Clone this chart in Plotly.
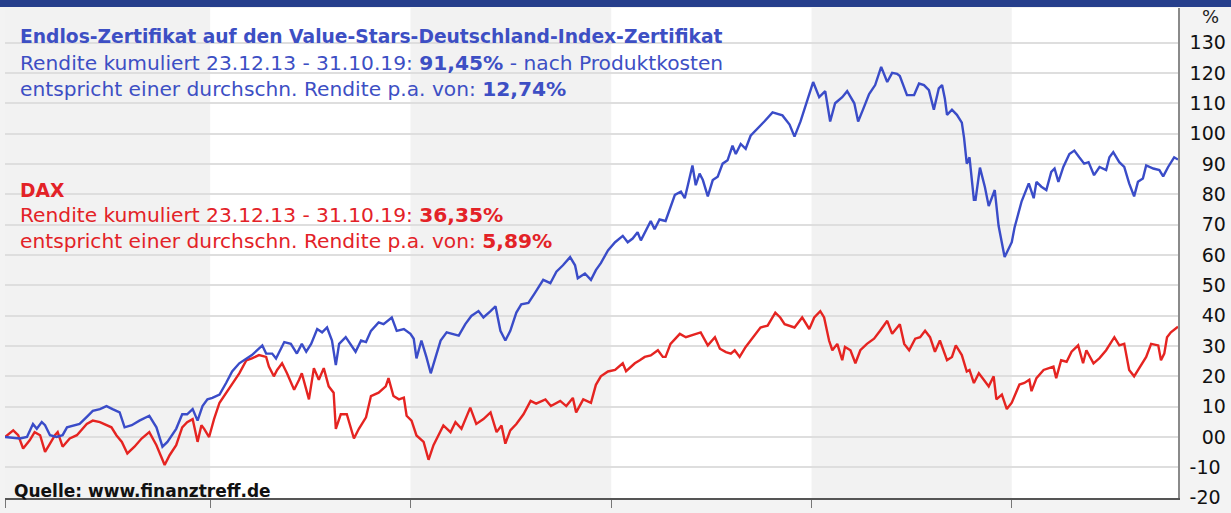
import pandas as pd
import plotly.graph_objects as go

START = "2013-12-23"
END = "2019-10-31"

# day offsets from START and cumulative return in %
value_days = [0, 27, 40, 51, 58, 67, 73, 82, 94, 105, 113, 136, 151, 160, 173, 185, 196, 209, 218, 231,
              245, 263, 276, 287, 296, 312, 323, 332, 342, 351, 360, 369, 378, 391, 403, 414, 427, 440,
              450, 469, 476, 487, 494, 509, 521, 532, 541, 549, 558, 569, 578, 587, 596, 603, 609, 621,
              632, 639, 649, 658, 667, 681, 690, 705, 714, 727, 739, 745, 750, 759, 768, 776, 785, 794,
              805, 814, 827, 839, 850, 863, 872, 885, 894, 903, 912, 921, 932, 941, 954, 966, 981, 994,
              1005, 1017, 1030, 1039, 1044, 1057, 1068, 1077, 1086, 1099, 1112, 1126, 1135, 1144, 1153,
              1159, 1177, 1184, 1193, 1204, 1212, 1221, 1232, 1239, 1244, 1253, 1259, 1266, 1272, 1281,
              1290, 1299, 1308, 1317, 1326, 1332, 1341, 1350, 1359, 1371, 1384, 1399, 1417, 1430, 1439,
              1450, 1462, 1473, 1484, 1495, 1504, 1513, 1526, 1535, 1548, 1555, 1564, 1575, 1586, 1597,
              1608, 1617, 1626, 1631, 1644, 1657, 1666, 1675, 1684, 1693, 1702, 1708, 1713, 1717, 1726,
              1735, 1744, 1748, 1753, 1758, 1766, 1769, 1777, 1786, 1793, 1804, 1811, 1822, 1835, 1840,
              1853, 1866, 1875, 1880, 1889, 1898, 1907, 1913, 1920, 1929, 1940, 1949, 1958, 1967, 1975,
              1985, 1995, 2007, 2013, 2020, 2031, 2040, 2049, 2058, 2065, 2074, 2080, 2093, 2104, 2111,
              2120, 2131, 2138]
value_stars = [0, -0.5, 0, 4.3, 2.7, 4.9, 3.9, 0.6, 0, 0.6, 3.2, 4.3, 7.0, 8.6, 9.2, 10.2, 9.2, 8.1, 3.2, 3.9,
               5.4, 7.0, 3.2, -3.2, -1.6, 2.7, 7.5, 7.5, 9.2, 5.4, 10.2, 12.4, 12.9, 14.0, 17.8, 21.6, 24.3,
               25.9, 27.0, 30.2, 27.5, 27.5, 25.9, 31.3, 30.7, 27.5, 30.7, 28.1, 30.7, 35.6, 34.5, 36.1,
               31.8, 23.7, 30.7, 32.9, 30.2, 28.1, 31.8, 31.3, 35.0, 37.8, 37.2, 39.4, 35.0, 35.6, 34.0,
               32.4, 25.9, 31.8, 26.4, 21.0, 26.4, 31.8, 34.5, 34.0, 33.4, 37.2, 39.9, 41.5, 39.4, 41.5,
               43.1, 35.0, 31.8, 35.0, 41.0, 43.7, 44.2, 47.5, 51.8, 50.7, 54.5, 56.6, 59.3, 56.6, 52.3,
               53.9, 51.8, 55.0, 57.3, 61.5, 64.2, 66.3, 64.2, 65.4, 67.5, 64.8, 71.2, 68.5, 71.7, 71.2,
               75.0, 79.8, 80.9, 78.7, 82.5, 89.5, 83.0, 86.8, 84.7, 79.3, 84.7, 85.8, 90.1, 91.2, 96.0,
               93.3, 96.6, 95.0, 99.3, 101.4, 104.0, 107.0, 106.0, 103.0, 99.0, 104.0, 111.0, 117.0, 112.0,
               114.0, 104.0, 110.0, 112.0, 114.0, 110.0, 104.0, 108.0, 113.0, 116.0, 122.0, 117.0, 120.0,
               119.7, 119.0, 112.7, 112.7, 116.5, 116.0, 114.3, 107.9, 114.9, 116.0, 111.6, 106.2, 107.9,
               106.2, 103.6, 98.7, 90.1, 92.2, 78.2, 78.2, 88.8, 82.4, 76.1, 81.4, 69.6, 59.3, 64.2, 69.0,
               77.7, 83.6, 78.7, 84.1, 82.5, 81.4, 87.4, 88.5, 84.1, 89.0, 93.3, 94.4, 92.2, 90.1, 90.6,
               86.3, 89.0, 88.0, 92.2, 93.9, 90.6, 89.0, 83.6, 79.3, 84.1, 85.2, 89.5, 88.5, 88.0, 85.9,
               89.0, 92.2, 91.45]

dax_days = [0, 15, 24, 33, 45, 54, 64, 73, 82, 91, 96, 105, 118, 131, 149, 160, 173, 185, 194, 203, 213,
            223, 236, 249, 263, 276, 285, 291, 300, 312, 323, 332, 342, 351, 358, 363, 372, 381, 391, 403,
            414, 427, 440, 450, 463, 476, 481, 490, 496, 505, 514, 527, 536, 541, 554, 563, 572, 581, 590,
            599, 603, 612, 623, 636, 645, 658, 667, 681, 694, 699, 708, 718, 727, 732, 741, 750, 763, 772,
            781, 790, 799, 812, 821, 832, 848, 859, 872, 885, 896, 905, 912, 921, 932, 945, 958, 968, 985,
            995, 1012, 1023, 1035, 1041, 1054, 1068, 1077, 1086, 1099, 1112, 1126, 1132, 1148, 1157, 1166,
            1177, 1190, 1199, 1204, 1213, 1230, 1241, 1257, 1268, 1281, 1294, 1303, 1314, 1323, 1330, 1339,
            1350, 1359, 1377, 1390, 1404, 1413, 1421, 1439, 1448, 1453, 1466, 1475, 1486, 1493, 1502, 1508,
            1517, 1526, 1531, 1541, 1550, 1559, 1571, 1584, 1595, 1608, 1617, 1631, 1639, 1648, 1659, 1668,
            1677, 1686, 1695, 1704, 1717, 1726, 1733, 1744, 1753, 1758, 1766, 1775, 1784, 1793, 1802, 1807,
            1817, 1826, 1835, 1849, 1858, 1867, 1871, 1880, 1893, 1904, 1911, 1916, 1925, 1935, 1944, 1956,
            1965, 1971, 1984, 1995, 2007, 2022, 2031, 2040, 2049, 2058, 2067, 2080, 2089, 2102, 2107, 2113,
            2118, 2125, 2138]
dax = [0, 2.2, 0.6, -3.8, -1.1, 1.6, 0.6, -4.9, -2.2, 0.6, 1.6, -3.2, -0.5, 0.6, 4.3, 5.4, 4.9, 3.9, 3.2,
       0.6, -1.6, -5.4, -3.2, -0.5, 1.6, -2.7, -7.0, -9.2, -6.0, -2.7, 3.2, 4.9, 5.9, -1.6, 3.9, 2.7, 0,
       5.9, 11.3, 14.6, 17.8, 21.0, 25.3, 25.9, 27.0, 26.4, 23.2, 20.0, 22.1, 24.3, 21.0, 15.6, 18.9, 21.0,
       12.4, 22.7, 18.9, 22.7, 16.7, 14.6, 2.7, 7.5, 7.5, -0.5, 2.7, 6.5, 13.5, 14.6, 16.7, 19.4, 13.5,
       12.4, 13.0, 7.0, 5.4, 0.5, -1.6, -7.5, -2.7, 0.5, 3.8, 1.6, 4.9, 2.7, 9.7, 4.3, 5.9, 8.1, 1.6, 3.8,
       -2.2, 2.2, 4.3, 7.5, 11.9, 11.0, 12.4, 10.2, 11.9, 10.2, 12.9, 8.1, 12.4, 11.3, 17.2, 20.0, 21.6,
       22.1, 24.3, 21.7, 24.3, 25.3, 26.4, 26.9, 28.6, 26.4, 26.4, 30.7, 34.0, 32.9, 34.0, 34.5, 30.2,
       32.9, 29.1, 28.0, 27.5, 28.6, 26.4, 29.7, 31.8, 36.1, 36.7, 41.0, 39.4, 37.2, 36.1, 38.3, 39.4,
       35.6, 39.4, 41.5, 39.4, 31.8, 28.6, 30.7, 25.3, 29.7, 28.6, 24.3, 28.6, 30.7, 32.4, 35.0, 38.3,
       34.0, 37.2, 30.7, 28.6, 32.4, 32.9, 35.0, 32.9, 28.1, 31.8, 25.3, 26.4, 30.2, 27.0, 21.6, 22.1,
       17.8, 21.0, 18.9, 16.7, 20.0, 12.4, 14.0, 9.2, 11.3, 17.3, 17.8, 18.9, 15.1, 19.4, 22.1, 22.7,
       23.2, 19.4, 25.3, 24.8, 28.1, 30.2, 24.3, 28.6, 24.3, 26.0, 28.6, 32.9, 30.2, 30.7, 22.1, 20.0,
       22.7, 26.4, 30.7, 30.2, 25.3, 27.5, 32.9, 34.5, 36.35]

band_starts = ["2013-12-23", "2016-01-01", "2018-01-01"]
band_ends = ["2015-01-01", "2017-01-01", "2019-01-01"]
year_ticks = ["2013-12-23", "2015-01-01", "2016-01-01", "2017-01-01", "2018-01-01", "2019-01-01"]

y_ticks = [-20, -10, 0, 10, 20, 30, 40, 50, 60, 70, 80, 90, 100, 110, 120, 130]
y_ticktext = ["-20", "-10", "\u200700", "\u200710", "\u200720", "\u200730", "\u200740", "\u200750",
              "\u200760", "\u200770", "\u200780", "\u200790", "100", "110", "120", "130"]

BLUE_LINE = "#3a4cc8"
RED_LINE = "#e52421"
BLUE_TXT = "#3d4fc4"
RED_TXT = "#e32227"

start = pd.Timestamp(START)
x_vs = start + pd.to_timedelta(value_days, unit="D")
x_dax = start + pd.to_timedelta(dax_days, unit="D")

fig = go.Figure()
fig.add_trace(go.Scatter(x=x_dax, y=dax, mode="lines", name="DAX",
                         line=dict(color=RED_LINE, width=2.4)))
fig.add_trace(go.Scatter(x=x_vs, y=value_stars, mode="lines", name="Value-Stars",
                         line=dict(color=BLUE_LINE, width=2.4)))

for s, e in zip(band_starts, band_ends):
    fig.add_shape(type="rect", xref="x", yref="paper", x0=s, x1=e, y0=0, y1=1,
                  fillcolor="#f2f2f2", line_width=0, layer="below")

# top banner
fig.add_shape(type="rect", xref="paper", yref="paper", x0=-0.01, x1=1.05, y0=1.002, y1=1.03,
              fillcolor="#263f8c", line_width=0, layer="above")

FONT = "DejaVu Sans"

def add(text, x, y, color, size, bold=False):
    fig.add_annotation(text=("<b>%s</b>" % text) if bold else text, xref="paper", yref="paper",
                       x=x, y=y, xanchor="left", yanchor="middle", showarrow=False,
                       font=dict(family=FONT, size=size, color=color))

add("Endlos-Zertifikat auf den Value-Stars-Deutschland-Index-Zertifikat", 0.011, 0.942, BLUE_TXT, 18.7, True)
add("Rendite kumuliert 23.12.13 - 31.10.19: <b>91,45%</b> - nach Produktkosten", 0.011, 0.888, BLUE_TXT, 20.2)
add("entspricht einer durchschn. Rendite p.a. von: <b>12,74%</b>", 0.011, 0.834, BLUE_TXT, 20.2)
add("DAX", 0.011, 0.628, RED_TXT, 18.7, True)
add("Rendite kumuliert 23.12.13 - 31.10.19: <b>36,35%</b>", 0.011, 0.578, RED_TXT, 20.2)
add("entspricht einer durchschn. Rendite p.a. von: <b>5,89%</b>", 0.011, 0.524, RED_TXT, 20.2)
add("Quelle: www.finanztreff.de", 0.006, 0.014, "#111111", 17, True)
fig.add_annotation(text="%", xref="paper", yref="paper", x=1.028, y=0.982, xanchor="center",
                   yanchor="middle", showarrow=False, font=dict(family=FONT, size=18, color="#222222"))

fig.update_layout(
    width=1231, height=513,
    margin=dict(l=5, r=49, t=8, b=6),
    paper_bgcolor="#f3f3f3",
    plot_bgcolor="#ffffff",
    showlegend=False,
    xaxis=dict(type="date", range=[START, END], showgrid=False, zeroline=False,
               tickvals=year_ticks, showticklabels=False, ticks="outside", ticklen=8,
               tickcolor="#777777", tickwidth=1, showline=True, linecolor="#555555", linewidth=1.5),
    yaxis=dict(side="right", range=[-20.1, 141.4], tickvals=y_ticks, ticktext=y_ticktext,
               showgrid=True, gridcolor="#dedede", gridwidth=1.5, zeroline=False,
               showline=True, linecolor="#8a8a8a", linewidth=1.5, ticks="",
               tickfont=dict(family=FONT, size=19, color="#111111"), ticklabelstandoff=6),
)

fig.write_html("out.html", config={"displayModeBar": False},
               post_script="document.body.style.margin='0';")
